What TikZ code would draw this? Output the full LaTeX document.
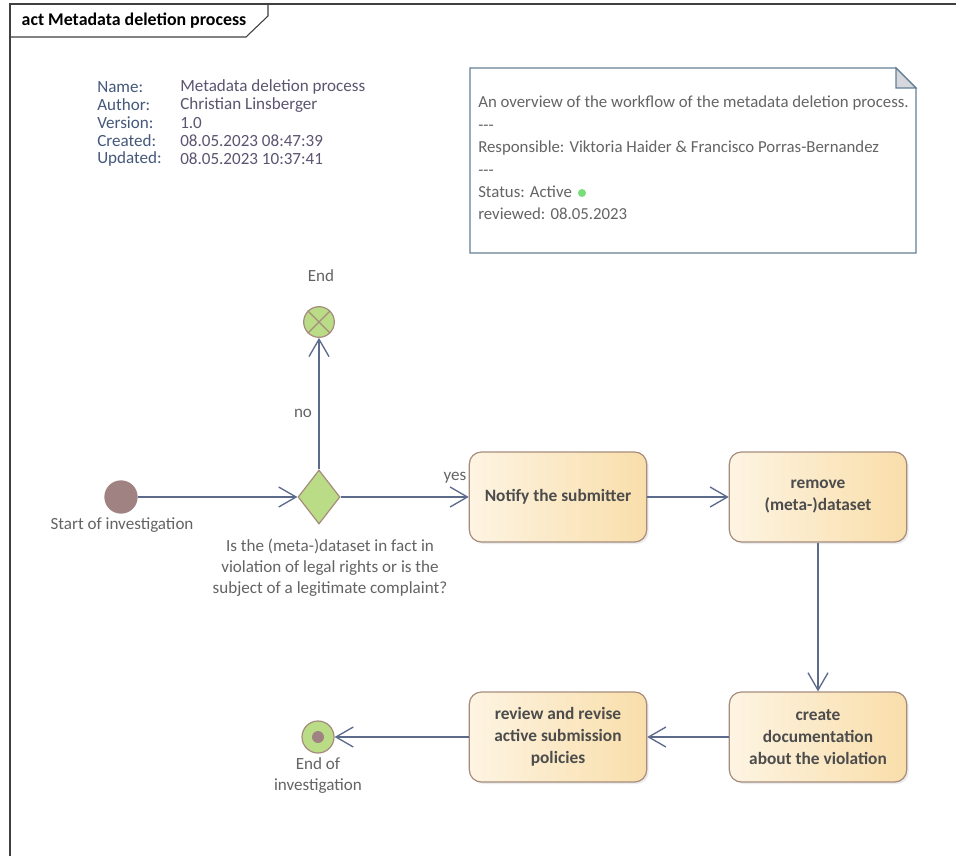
\documentclass[tikz,border=0pt]{standalone}
\usepackage{fontspec}
\setmainfont{Carlito}
\usetikzlibrary{arrows.meta,shapes.geometric,shadows}
\definecolor{edgeblue}{RGB}{92,106,140}
\definecolor{boxline}{RGB}{165,140,125}
\definecolor{boxlight}{RGB}{253,244,226}
\definecolor{boxdark}{RGB}{249,222,170}
\definecolor{nodegreen}{RGB}{186,220,134}
\definecolor{startbrown}{RGB}{160,130,130}
\definecolor{labelgray}{RGB}{100,100,100}
\definecolor{metakey}{RGB}{68,88,122}
\definecolor{metaval}{RGB}{92,84,112}
\definecolor{noteline}{RGB}{100,128,148}
\definecolor{foldgray}{RGB}{215,216,222}
\definecolor{okgreen}{RGB}{120,222,120}
\begin{document}
\begin{tikzpicture}[x=0.75pt,y=-0.75pt,
 every node/.style={font=\fontsize{12.8}{15}\selectfont,text=labelgray},
 action/.style={draw=boxline,line width=0.9pt,rounded corners=9pt,left color=boxlight,right color=boxdark,
  minimum width=133pt,minimum height=67.5pt,align=center,text=black!70,
  font=\fontsize{13}{16.5}\selectfont\bfseries,drop shadow={opacity=0.15,shadow xshift=1.5pt,shadow yshift=-1.5pt}},
 flow/.style={draw=edgeblue,line width=1pt,-{Straight Barb[length=13pt,width=15pt]}},
 bullet/.style={circle,draw=boxline,line width=0.9pt,inner sep=0pt}]
 \useasboundingbox (0,0) rectangle (956,856);
 \fill[white] (0,0) rectangle (956,856);
 \draw[black!75,line width=0.8pt] (10,966) -- (10,4) -- (966,4);
 \draw[black!75,line width=0.8pt] (268,4) -- (268,16) -- (246,37) -- (10,37);
 \node[anchor=west,text=black,font=\fontsize{13.4}{15}\selectfont\bfseries] (title) at (17,21) {act Metadata deletion process};
 \foreach \k/\v [count=\i] in {Name:/Metadata deletion process,Author:/Christian Linsberger,Version:/1.0,
   Created:/08.05.2023 08:47:39,Updated:/08.05.2023 10:37:41} {
  \node[anchor=west,inner sep=0pt,text=metakey] (key\i) at (97,69+18*\i) {\k};
  \node[anchor=west,inner sep=0pt,text=metaval] (val\i) at (180,69+18*\i) {\v};
 }
 \draw[noteline,line width=0.9pt] (470,68) -- (896,68) -- (916,88) -- (916,253) -- (470,253) -- cycle;
 \draw[noteline,line width=0.9pt,fill=foldgray] (896,68) -- (896,88) -- (916,88) -- cycle;
 \node[anchor=north west,inner sep=0pt,align=left,font=\fontsize{12.6}{16.8}\selectfont] (note) at (478,96)
  {An overview of the workflow of the metadata deletion process.\\ -{}-{}-\\
   Responsible: Viktoria Haider \& Francisco Porras-Bernandez\\ -{}-{}-\\
   Status: Active\\ reviewed: 08.05.2023};
 \node[circle,fill=okgreen,inner sep=0pt,minimum size=6pt] (statusdot) at (582,193) {};
 \node[bullet,fill=nodegreen,minimum size=23pt] (endflow) at (319,322) {};
 \draw[boxline,line width=0.9pt] (endflow.45) -- (endflow.225) (endflow.135) -- (endflow.315);
 \node (endlbl) at (321,276) {End};
 \node[diamond,draw=boxline,line width=0.9pt,fill=nodegreen,inner sep=0pt,minimum width=31.5pt,minimum height=40.5pt] (dec) at (319,497) {};
 \node[circle,fill=startbrown,inner sep=0pt,minimum size=25pt] (start) at (121,497) {};
 \node (startlbl) at (122,525) {Start of investigation};
 \node[align=center,font=\fontsize{12.8}{15.75}\selectfont] (declbl) at (330,568)
  {Is the (meta-)dataset in fact in\\ violation of legal rights or is the\\ subject of a legitimate complaint?};
 \node[action] (notify) at (558,497) {Notify the submitter};
 \node[action] (remove) at (818,497) {remove\\ (meta-)dataset};
 \node[action] (createdoc) at (818,737) {create\\ documentation\\ about the violation};
 \node[action] (review) at (558,737) {review and revise\\ active submission\\ policies};
 \node[bullet,fill=nodegreen,minimum size=24pt] (endinv) at (318,737) {};
 \fill[startbrown] (endinv) circle (4.5pt);
 \node[align=center,font=\fontsize{12.8}{15.75}\selectfont] (endinvlbl) at (318,776) {End of\\ investigation};
 \draw[flow] (start) -- (dec);
 \draw[flow] (dec) -- (endflow);
 \node (nolbl) at (303,413) {no};
 \draw[flow] (dec) -- (notify);
 \node (yeslbl) at (455,478) {yes};
 \draw[flow] (notify) -- (remove);
 \draw[flow] (remove) -- (createdoc);
 \draw[flow] (createdoc) -- (review);
 \draw[flow] (review) -- (endinv);
\end{tikzpicture}
\end{document}
